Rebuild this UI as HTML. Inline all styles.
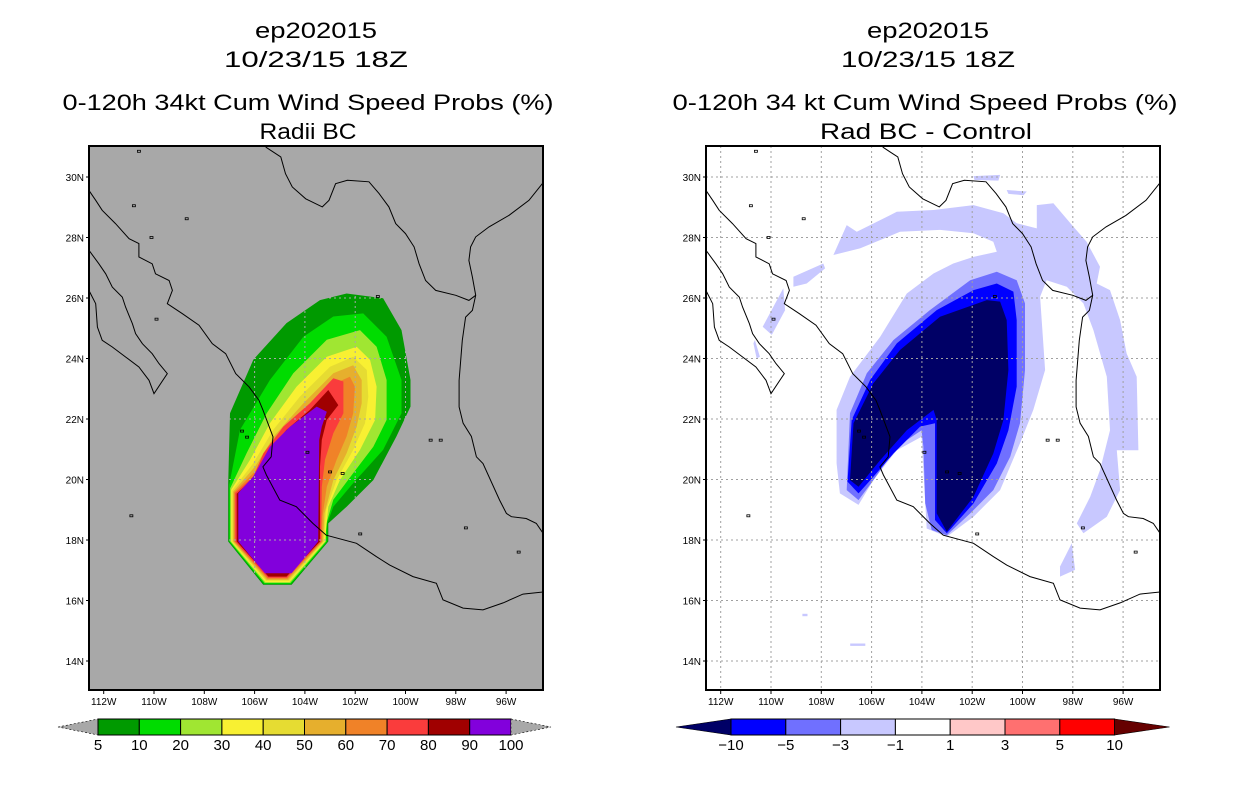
<!DOCTYPE html>
<html><head><meta charset="utf-8"><style>
html,body{margin:0;padding:0;background:#fff;}
svg{display:block;}
text{font-family:"Liberation Sans",sans-serif;fill:#000;}
</style></head><body>
<svg id="chart" width="1236" height="800" viewBox="0 0 1236 800" xmlns="http://www.w3.org/2000/svg">
<defs>
<clipPath id="clipL"><rect x="89" y="146" width="454" height="544"/></clipPath>
<clipPath id="clipR"><rect x="706" y="146" width="454" height="544"/></clipPath>
</defs>
<g font-size="22">
<text x="316" y="38" text-anchor="middle" textLength="122" lengthAdjust="spacingAndGlyphs">ep202015</text>
<text x="316" y="67" text-anchor="middle" textLength="184" lengthAdjust="spacingAndGlyphs">10/23/15 18Z</text>
<text x="308" y="110" text-anchor="middle" textLength="491" lengthAdjust="spacingAndGlyphs">0-120h 34kt Cum Wind Speed Probs (%)</text>
<text x="308" y="139" text-anchor="middle" textLength="97" lengthAdjust="spacingAndGlyphs">Radii BC</text>
</g>
<g font-size="22">
<text x="928" y="38" text-anchor="middle" textLength="122" lengthAdjust="spacingAndGlyphs">ep202015</text>
<text x="928" y="67" text-anchor="middle" textLength="174" lengthAdjust="spacingAndGlyphs">10/23/15 18Z</text>
<text x="925" y="110" text-anchor="middle" textLength="505" lengthAdjust="spacingAndGlyphs">0-120h 34 kt Cum Wind Speed Probs (%)</text>
<text x="926" y="139" text-anchor="middle" textLength="212" lengthAdjust="spacingAndGlyphs">Rad BC - Control</text>
</g>
<g id="L"></g>
<g id="R"></g>
<g id="CB"></g>
</svg>
<script>
// ---- data: longitudes in degrees West, latitudes in degrees North ----
const latTicks = [14,16,18,20,22,24,26,28,30];
const lonTicks = [112,110,108,106,104,102,100,98,96];
const leftLevels = [5,10,20,30,40,50,60,70,80,90,100];
const leftColors = ["#009a00","#00dc00","#a0e632","#f8f032","#e6dc32","#e6af2d","#f08228","#fa3c3c","#a00000","#8200dc"];
const rightLevels = [-10,-5,-3,-1,1,3,5,10];
const rightColors = ["#000066","#0000ff","#7070ff","#c8c8ff","#ffffff","#ffc8c8","#ff7070","#ff0000","#660000"];

const probL5 = [[102.34,26.15],[100.89,25.99],[100.16,24.94],[99.80,23.29],[99.80,22.41],[100.36,21.42],[101.28,19.98],[102.34,19.10],[103.07,18.55],[103.07,17.95],[104.53,16.52],[105.66,16.52],[107.05,17.95],[107.05,19.88],[106.98,22.19],[106.05,23.96],[104.73,25.17],[103.40,25.93]];
const probL10 = [[101.68,25.49],[100.75,24.72],[100.16,23.29],[100.16,22.19],[100.89,20.98],[102.08,19.88],[102.87,19.10],[103.11,18.55],[103.11,17.95],[104.55,16.55],[105.63,16.55],[107.01,17.95],[107.01,19.82],[106.58,21.64],[105.39,23.29],[104.06,24.72],[102.87,25.39]];
const probL20 = [[101.81,24.94],[101.15,24.39],[100.75,23.29],[100.75,21.97],[101.28,21.08],[102.08,20.21],[102.87,19.33],[103.16,18.50],[103.16,17.95],[104.58,16.58],[105.60,16.58],[106.97,17.95],[106.97,19.71],[106.32,20.87],[105.52,22.19],[104.46,23.51],[103.13,24.62]];
const probL30 = [[101.94,24.39],[101.41,23.96],[101.15,23.07],[101.21,21.97],[101.81,20.98],[102.61,19.98],[103.07,19.10],[103.20,17.95],[104.61,16.61],[105.57,16.61],[106.93,17.95],[106.93,19.66],[106.18,20.65],[105.39,21.86],[104.33,23.07],[103.13,24.06]];
const probL40 = [[102.08,24.06],[101.54,23.62],[101.48,22.74],[101.61,21.86],[102.08,20.98],[102.74,19.98],[103.16,18.99],[103.24,17.95],[104.63,16.65],[105.55,16.65],[106.89,17.95],[106.89,19.64],[106.05,20.54],[105.26,21.64],[104.20,22.74],[103.00,23.73]];
const probL50 = [[102.08,23.78],[101.74,23.29],[101.74,22.52],[101.94,21.75],[102.34,20.87],[102.87,19.98],[103.22,18.88],[103.28,17.95],[104.66,16.68],[105.52,16.68],[106.85,17.95],[106.85,19.60],[105.98,20.43],[105.19,21.47],[104.06,22.52],[102.87,23.51]];
const probL60 = [[102.21,23.40],[102.01,23.07],[102.08,22.19],[102.34,21.42],[102.74,20.65],[103.13,19.76],[103.30,18.78],[103.32,17.95],[104.69,16.72],[105.49,16.72],[106.81,17.95],[106.81,19.58],[105.92,20.32],[105.06,21.31],[103.93,22.30],[102.80,23.18]];
const probL70 = [[102.87,23.35],[102.47,23.24],[102.47,22.19],[102.87,21.53],[103.20,20.65],[103.33,19.76],[103.36,17.95],[104.71,16.75],[105.47,16.75],[106.77,17.95],[106.77,19.55],[106.05,20.10],[105.65,20.87],[104.86,21.75],[103.80,22.52]];
const probL80 = [[103.07,22.96],[102.67,22.46],[103.13,21.97],[103.33,21.31],[103.40,20.42],[103.40,17.95],[104.73,16.79],[105.45,16.79],[106.71,17.95],[106.71,19.53],[106.12,19.98],[105.52,20.87],[104.73,21.64],[103.80,22.30]];
const probL90 = [[103.53,22.41],[103.13,22.24],[103.33,21.75],[103.43,21.31],[103.47,17.95],[104.53,16.90],[105.59,16.90],[106.65,17.95],[106.65,19.55],[106.05,20.10],[105.39,21.08],[104.59,21.75]];

const diffLight = [[107.39,20.53],[107.39,22.30],[106.86,23.40],[105.66,24.72],[104.60,26.15],[103.54,26.81],[102.75,27.14],[101.95,27.36],[101.02,27.53],[101.16,27.86],[101.95,28.14],[103.28,28.25],[104.87,28.19],[106.46,27.64],[107.52,27.42],[106.99,28.41],[106.59,28.19],[105.00,28.85],[103.54,28.91],[101.95,29.07],[100.76,28.80],[100.23,28.47],[99.43,28.30],[99.43,29.07],[98.77,29.13],[97.98,28.36],[97.45,27.86],[96.92,27.03],[97.05,26.48],[96.52,26.26],[96.12,25.27],[95.86,24.17],[95.46,23.40],[95.39,20.97],[96.25,20.97],[96.12,19.65],[96.65,18.77],[97.58,18.22],[97.84,18.55],[97.31,19.43],[96.92,20.31],[96.52,21.63],[96.65,23.40],[97.18,24.94],[97.58,25.82],[98.24,26.37],[99.04,26.59],[99.30,26.04],[99.10,23.62],[99.57,22.30],[100.10,21.20],[100.89,19.65],[101.95,18.77],[103.01,18.11],[103.81,18.38],[103.94,20.31],[104.01,21.41],[105.00,20.97],[105.93,19.98],[106.52,19.16],[107.26,19.54]];
const diffLightA = [[101.95,30.03],[100.89,30.07],[100.96,29.88],[101.91,29.90]];
const diffLightB = [[100.63,29.57],[99.83,29.52],[99.96,29.40],[100.56,29.44]];
const diffLightC = [[109.11,26.70],[107.92,27.14],[107.85,26.98],[108.58,26.48],[109.11,26.37]];
const diffLightD = [[109.51,26.32],[109.44,25.60],[109.97,24.78],[110.33,25.05]];
const diffLightE = [[110.64,24.61],[110.44,24.06],[110.57,24.00],[110.70,24.50]];
const diffLightF = [[98.04,17.89],[97.91,17.01],[98.51,16.79],[98.51,17.12]];
const diffLightG = [[108.75,15.56],[108.55,15.56],[108.55,15.48],[108.75,15.48]];
const diffLightH = [[106.85,14.58],[106.25,14.58],[106.25,14.50],[106.85,14.50]];
const diffMed = [[106.99,19.65],[106.86,22.19],[106.19,23.51],[105.13,24.61],[103.68,25.60],[102.08,26.59],[101.02,26.87],[100.23,26.59],[99.90,25.82],[99.90,23.62],[100.10,21.86],[100.49,20.75],[101.16,19.65],[102.08,18.88],[103.01,18.16],[103.61,18.33],[103.87,19.21],[103.94,21.08],[104.01,21.63],[105.00,21.08],[105.93,19.98],[106.52,19.32]];
const diffBlue = [[106.96,19.93],[106.79,21.97],[106.06,23.29],[105.00,24.50],[103.41,25.60],[101.95,26.26],[101.02,26.48],[100.36,26.21],[100.23,25.27],[100.23,23.07],[100.56,21.63],[101.02,20.53],[101.95,19.21],[103.01,18.22],[103.48,18.66],[103.48,21.86],[104.07,21.75],[105.13,20.86],[105.93,20.09],[106.52,19.54]];
const diffNavy = [[106.86,19.98],[106.72,21.86],[105.93,23.18],[104.87,24.28],[103.28,25.38],[101.42,25.93],[100.89,25.88],[100.63,25.27],[100.56,23.62],[100.76,21.97],[101.16,20.86],[101.95,19.43],[103.01,18.27],[103.41,18.88],[103.41,21.97],[103.54,22.30],[104.60,21.63],[105.66,20.64],[106.52,19.76]];

const coastPacific = [[112.59,29.56],[112.32,29.23],[112.06,28.90],[111.53,28.46],[110.99,27.96],[110.60,27.80],[110.60,27.36],[110.07,27.13],[109.94,26.80],[109.40,26.58],[109.27,26.25],[109.47,25.81],[108.87,25.48],[108.21,25.10],[107.68,24.49],[107.15,24.16],[106.75,23.50],[106.22,23.06],[105.83,22.62],[105.67,22.30],[105.27,21.41],[105.34,20.75],[105.67,20.42],[105.53,20.15],[105.00,19.32],[104.34,19.10],[103.68,18.55],[103.15,18.16],[101.95,17.89],[101.16,17.45],[100.63,17.17],[99.70,16.79],[98.77,16.57],[98.51,16.02],[97.71,15.75],[96.92,15.69],[96.12,15.92],[95.33,16.21],[94.53,16.28]];
const coastBajaEast = [[112.59,27.58],[112.19,27.13],[111.92,26.80],[111.66,26.36],[111.26,26.03],[111.13,25.70],[110.86,25.15],[110.73,24.82],[110.46,24.49],[110.07,24.16],[109.80,23.83],[109.47,23.50],[110.00,22.84],[110.20,23.28],[110.60,23.72],[111.13,24.05],[111.66,24.38],[112.06,24.60],[112.25,25.04],[112.32,25.81],[112.59,26.25]];
const borderRioGrande = [[105.56,30.99],[104.96,30.66],[104.77,30.11],[104.50,29.67],[103.97,29.28],[103.31,29.01],[103.04,29.23],[102.78,29.78],[102.31,29.89],[101.45,29.84],[101.05,29.45],[100.66,29.01],[100.39,28.46],[100.00,28.13],[99.66,27.69],[99.46,27.13],[99.20,26.58],[98.80,26.25],[98.00,26.09],[97.48,25.92],[97.21,26.09]];
const coastGulf = [[94.56,29.78],[95.09,29.23],[95.89,28.73],[96.68,28.35],[97.21,28.02],[97.41,27.69],[97.48,27.24],[97.34,26.69],[97.21,26.09],[97.34,25.59],[97.61,25.37],[97.74,24.60],[97.87,23.28],[97.87,22.40],[97.71,21.86],[97.38,21.42],[97.18,20.75],[96.92,20.53],[96.26,19.32],[95.99,18.88],[95.79,18.77],[95.20,18.71],[94.80,18.55],[94.53,18.22]];
const islands = [[110.6,30.85],[110.8,29.05],[108.7,28.62],[110.1,28.0],[109.9,25.3],[106.5,21.6],[106.3,21.4],[103.9,20.9],[110.9,18.8],[99.0,21.3],[98.6,21.3],[103.0,20.25],[102.5,20.2],[101.8,18.2],[97.6,18.4],[95.5,17.6],[101.1,26.05]];

const NS = "http://www.w3.org/2000/svg";
function mk(tag, attrs, parent){const e=document.createElementNS(NS,tag);for(const k in attrs)e.setAttribute(k,attrs[k]);if(parent)parent.appendChild(e);return e;}
function xScale(x0){return lonW => x0 + (110 - lonW)*25.15;}
function yScale(lat){return 298 - (lat-26)*30.25;}
function pts(arr,xs){return arr.map(p=>xs(p[0]).toFixed(1)+","+yScale(p[1]).toFixed(1)).join(" ");}

function drawPanel(g, fx, x0, bg, gridCol, clip, polys, prefix){
  const xs = xScale(x0);
  const bgR = mk("rect",{x:fx,y:146,width:454,height:544,fill:bg},g);
  
  
  const cg = mk("g",{"clip-path":"url(#"+clip+")"},g);
  
  
  polys.forEach(pp=>{
    const p = mk("polygon",{points:pts(pp.d,xs),fill:pp.c},cg);
    
    
  });
  latTicks.forEach(l=>{
    const ln = mk("line",{x1:fx,x2:fx+454,y1:yScale(l),y2:yScale(l),stroke:gridCol,"stroke-width":1,"stroke-dasharray":"2,3"},cg);
    
    
  });
  lonTicks.forEach(l=>{
    const ln = mk("line",{x1:xs(l),x2:xs(l),y1:146,y2:690,stroke:gridCol,"stroke-width":1,"stroke-dasharray":"2,3"},cg);
    
    
  });
  [coastPacific,coastBajaEast,borderRioGrande,coastGulf].forEach((c,i)=>{
    const pl = mk("polyline",{points:pts(c,xs),fill:"none",stroke:"#000","stroke-width":1},cg);
    
    
  });
  islands.forEach(p=>{
    const r = mk("rect",{x:xs(p[0])-1.5,y:yScale(p[1])-1,width:3,height:2,fill:"none",stroke:"#000","stroke-width":0.8},cg);
    
    
  });
  const fr = mk("rect",{x:fx,y:146,width:454,height:544,fill:"none",stroke:"#000","stroke-width":2},g);
  
  
  latTicks.forEach(l=>{
    const t = mk("text",{x:fx-5,y:yScale(l)+4,"text-anchor":"end","font-size":10},g);
    t.textContent = l+"N";
    
    
    const tk = mk("line",{x1:fx-3,x2:fx,y1:yScale(l),y2:yScale(l),stroke:"#000"},g);
    
    
  });
  lonTicks.forEach(l=>{
    const t = mk("text",{x:xs(l),y:705,"text-anchor":"middle","font-size":10},g);
    t.textContent = l+"W";
    
    
    const tk = mk("line",{x1:xs(l),x2:xs(l),y1:690,y2:694,stroke:"#000"},g);
    
    
  });
}

const leftPolys = [probL5,probL10,probL20,probL30,probL40,probL50,probL60,probL70,probL80,probL90].map((d,i)=>({d:d,c:leftColors[i],n:leftLevels[i]}));
drawPanel(document.getElementById("L"), 89, 154, "#a8a8a8", "#a8a8a8", "clipL", leftPolys, "left");

const rightPolys = [
  {d:diffLight,c:rightColors[3],n:"minus1"},{d:diffLightA,c:rightColors[3],n:"minus1-a"},{d:diffLightB,c:rightColors[3],n:"minus1-b"},
  {d:diffLightC,c:rightColors[3],n:"minus1-c"},{d:diffLightD,c:rightColors[3],n:"minus1-d"},{d:diffLightE,c:rightColors[3],n:"minus1-e"},
  {d:diffLightF,c:rightColors[3],n:"minus1-f"},{d:diffLightG,c:rightColors[3],n:"minus1-g"},{d:diffLightH,c:rightColors[3],n:"minus1-h"},
  {d:diffMed,c:rightColors[2],n:"minus3"},{d:diffBlue,c:rightColors[1],n:"minus5"},{d:diffNavy,c:rightColors[0],n:"minus10"}];
drawPanel(document.getElementById("R"), 706, 771, "#ffffff", "#a0a0a0", "clipR", rightPolys, "right");

// colorbars
const cb = document.getElementById("CB");
function colorbar(x0, boxW, tipW, colors, labels, leftTip, rightTip, prefix){
  const y0=719, h=16, n=colors.length;
  const lt = mk("polygon",{points:`${x0-tipW},${y0+h/2} ${x0},${y0} ${x0},${y0+h}`,fill:leftTip,stroke:"#000","stroke-width":0.6,"stroke-dasharray":leftTip=="#a8a8a8"?"2,2":"none"},cb);
  
  
  colors.forEach((c,i)=>{
    const r = mk("rect",{x:x0+i*boxW,y:y0,width:boxW,height:h,fill:c,stroke:"#000","stroke-width":1},cb);
    
    
  });
  const xe = x0+n*boxW;
  const rt = mk("polygon",{points:`${xe},${y0} ${xe+tipW},${y0+h/2} ${xe},${y0+h}`,fill:rightTip,stroke:"#000","stroke-width":0.6,"stroke-dasharray":rightTip=="#a8a8a8"?"2,2":"none"},cb);
  
  
  labels.forEach((l,i)=>{
    const t = mk("text",{x:x0+i*boxW,y:750,"text-anchor":"middle","font-size":15},cb);
    t.textContent = String(l).replace("-","\u2212");
    
    
  });
}
colorbar(98, 41.3, 40, leftColors, leftLevels, "#a8a8a8", "#a8a8a8", "left");
colorbar(731, 54.8, 55, rightColors.slice(1,8), rightLevels, rightColors[0], rightColors[8], "right");
</script>
</body></html>
